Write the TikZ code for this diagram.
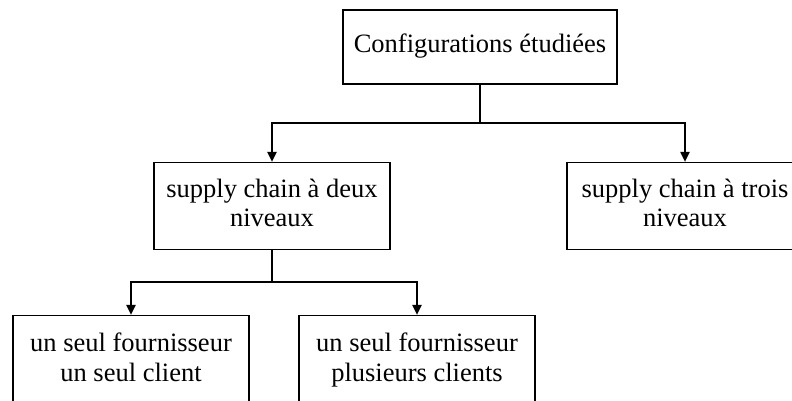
\documentclass[tikz,border=0pt]{standalone}
\usepackage{fontspec}
\setmainfont{Liberation Serif}
\usetikzlibrary{arrows.meta}
\begin{document}
\begin{tikzpicture}[x=1pt,y=-1pt,
  box/.style={draw,line width=1.2pt,inner sep=0pt,align=center,
    font=\fontsize{26.5}{29.5}\selectfont},
  link/.style={line width=2pt},
  arr/.style={line width=2pt,-{Triangle[width=9pt,length=10pt]}}]
\useasboundingbox (0,0) rectangle (792,400);
\node[box,minimum width=274pt,minimum height=74pt] (top) at (480,47) {\strut Configurations étudiées};
\node[box,minimum width=236pt,minimum height=87pt] (two) at (272,206) {\strut supply chain à deux\\\strut niveaux};
\node[box,minimum width=236pt,minimum height=87pt] (three) at (685,206) {\strut supply chain à trois\\\strut niveaux};
\node[box,minimum width=236pt,minimum height=90pt] (one) at (131,360.5) {\strut un seul fournisseur\\\strut un seul client};
\node[box,minimum width=236pt,minimum height=90pt] (many) at (417,360.5) {\strut un seul fournisseur\\\strut plusieurs clients};
\coordinate (j1) at (top.south |- 0,123);
\coordinate (j2) at (two.south |- 0,282);
\draw[link] (top.south) -- (j1);
\draw[arr] (j1) -| (two.north);
\draw[arr] (j1) -| (three.north);
\draw[link] (two.south) -- (j2);
\draw[arr] (j2) -| (one.north);
\draw[arr] (j2) -| (many.north);
\end{tikzpicture}
\end{document}
